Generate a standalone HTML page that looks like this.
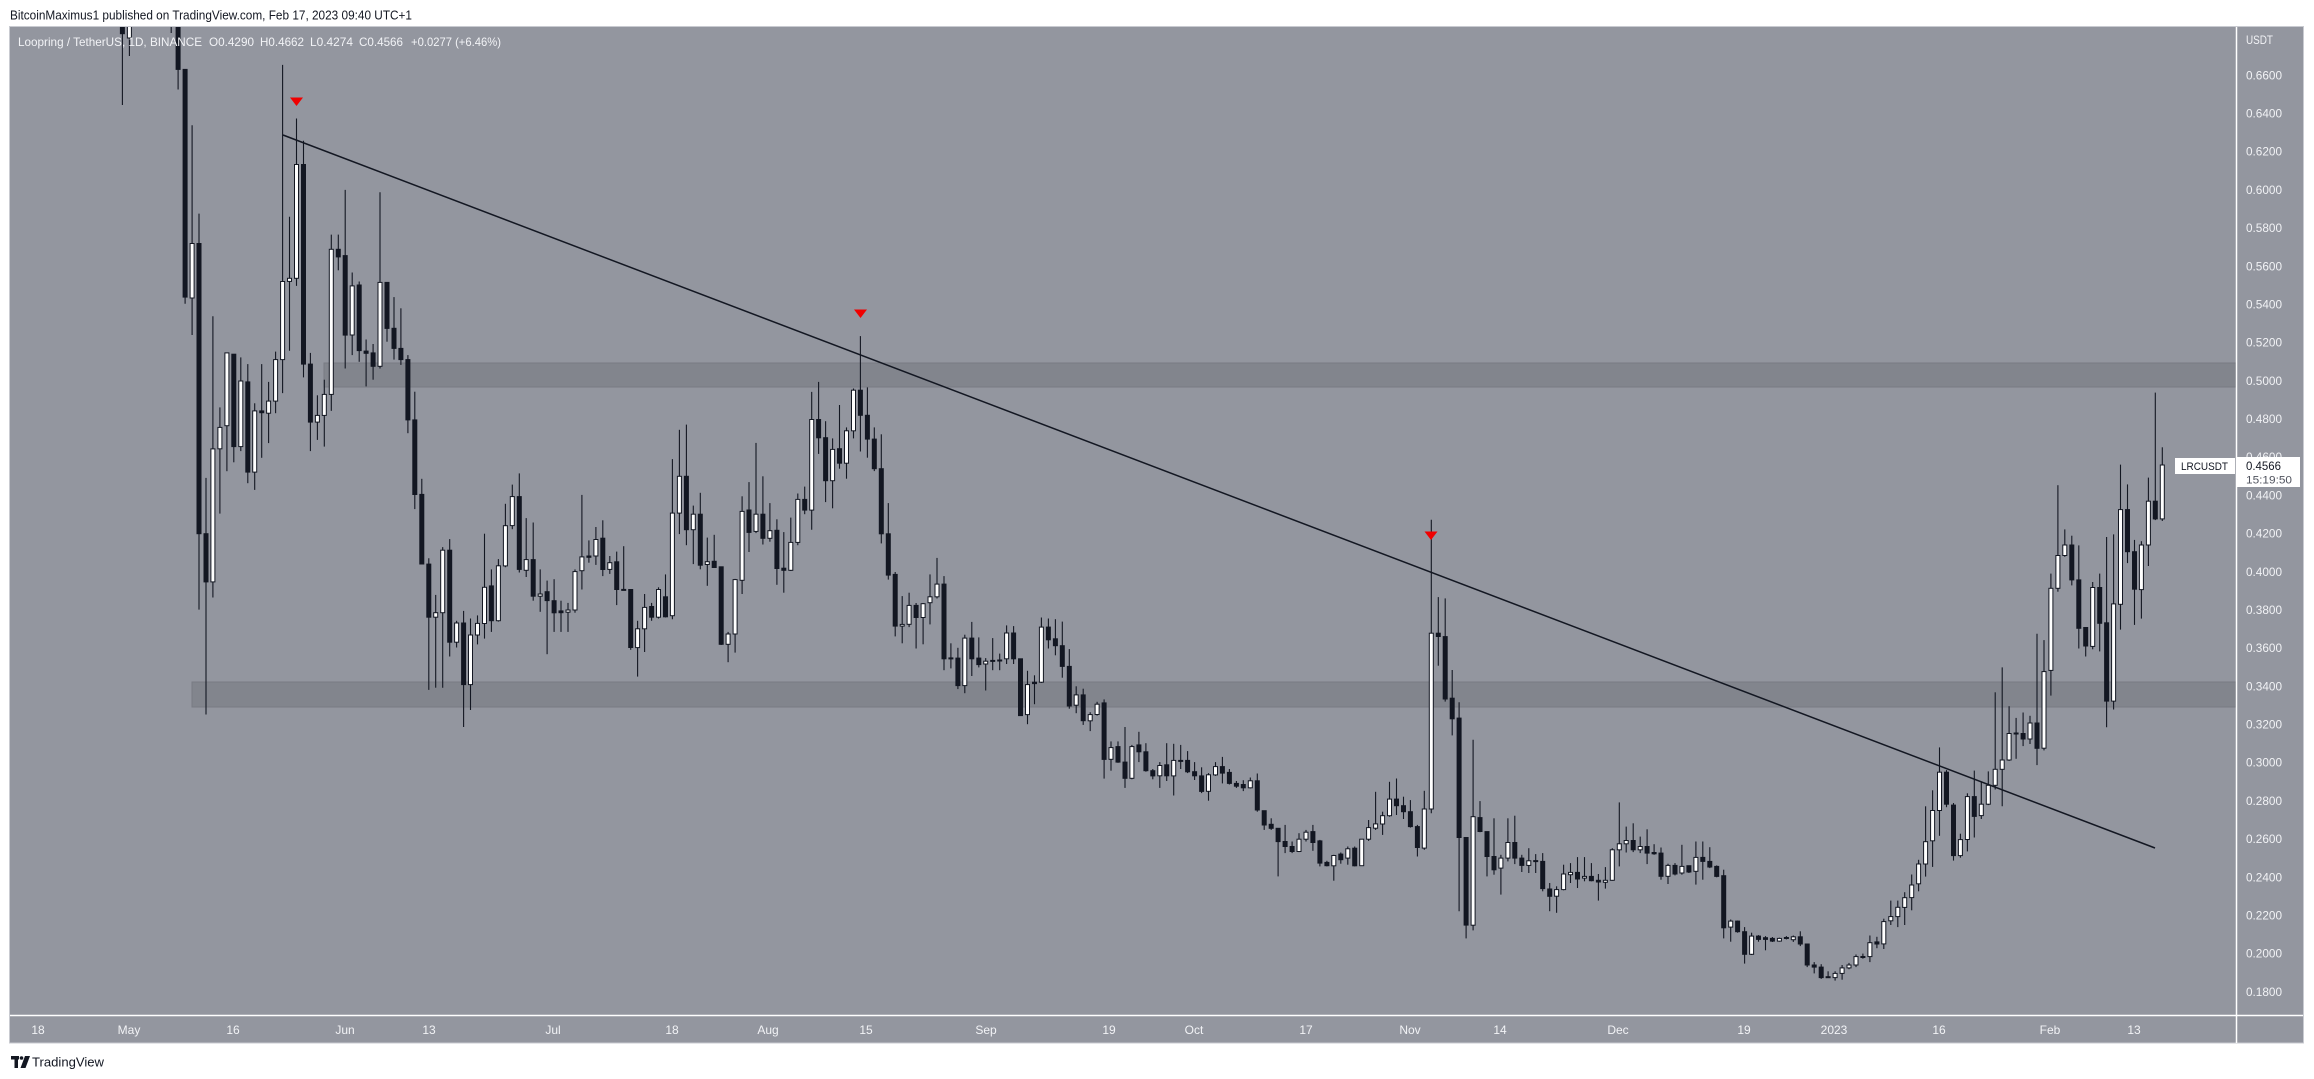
<!DOCTYPE html>
<html><head><meta charset="utf-8"><style>
html,body{margin:0;padding:0;background:#fff;width:2314px;height:1079px;overflow:hidden}
svg{display:block}
text{font-family:"Liberation Sans",sans-serif}
</style></head><body>
<svg id="s" width="2314" height="1079" viewBox="0 0 2314 1079" xmlns="http://www.w3.org/2000/svg">
<defs><clipPath id="pane"><rect x="10" y="27" width="2226" height="988"/></clipPath></defs>
<rect x="0" y="0" width="2314" height="1079" fill="#ffffff"/>
<text x="10" y="19.5" font-size="13" fill="#131722" textLength="402" lengthAdjust="spacingAndGlyphs">BitcoinMaximus1 published on TradingView.com, Feb 17, 2023 09:40 UTC+1</text>
<rect x="9.5" y="26.5" width="2294" height="1016.5" fill="#93969f" stroke="#c9cbd1" stroke-width="1"/>
<g clip-path="url(#pane)">
<rect x="324" y="363" width="1912" height="24" fill="#82858d" stroke="#787b83" stroke-width="1"/>
<rect x="192" y="682" width="2044" height="25" fill="#82858d" stroke="#787b83" stroke-width="1"/>
<g id="candles"></g>
<line x1="283" y1="135" x2="2155" y2="848" stroke="#131722" stroke-width="1.5"/>
<polygon points="290,97.5 303,97.5 296.5,106" fill="#f00000"/>
<polygon points="854,309.5 867,309.5 860.5,318" fill="#f00000"/>
<polygon points="1424.5,531.5 1437.5,531.5 1431,540" fill="#f00000"/>
</g>
<line x1="2236.5" y1="27" x2="2236.5" y2="1043" stroke="#ffffff" stroke-width="1.5"/>
<line x1="10" y1="1015.5" x2="2303" y2="1015.5" stroke="#ffffff" stroke-width="1.5"/>
<g font-size="12" fill="#f2f3f6">
<text x="18" y="46" textLength="184" lengthAdjust="spacingAndGlyphs">Loopring / TetherUS, 1D, BINANCE</text>
<text x="209" y="46" textLength="45" lengthAdjust="spacingAndGlyphs">O0.4290</text>
<text x="260" y="46" textLength="44" lengthAdjust="spacingAndGlyphs">H0.4662</text>
<text x="310" y="46" textLength="43" lengthAdjust="spacingAndGlyphs">L0.4274</text>
<text x="359" y="46" textLength="44" lengthAdjust="spacingAndGlyphs">C0.4566</text>
<text x="411" y="46" textLength="90" lengthAdjust="spacingAndGlyphs">+0.0277 (+6.46%)</text>
</g>
<g font-size="11.5" fill="#f2f3f6">
<text x="2246" y="44" textLength="27" lengthAdjust="spacingAndGlyphs">USDT</text>
<text x="2246" y="79.3" textLength="36" lengthAdjust="spacingAndGlyphs">0.6600</text>
<text x="2246" y="117.5" textLength="36" lengthAdjust="spacingAndGlyphs">0.6400</text>
<text x="2246" y="155.7" textLength="36" lengthAdjust="spacingAndGlyphs">0.6200</text>
<text x="2246" y="193.9" textLength="36" lengthAdjust="spacingAndGlyphs">0.6000</text>
<text x="2246" y="232.1" textLength="36" lengthAdjust="spacingAndGlyphs">0.5800</text>
<text x="2246" y="270.3" textLength="36" lengthAdjust="spacingAndGlyphs">0.5600</text>
<text x="2246" y="308.4" textLength="36" lengthAdjust="spacingAndGlyphs">0.5400</text>
<text x="2246" y="346.6" textLength="36" lengthAdjust="spacingAndGlyphs">0.5200</text>
<text x="2246" y="384.8" textLength="36" lengthAdjust="spacingAndGlyphs">0.5000</text>
<text x="2246" y="423.0" textLength="36" lengthAdjust="spacingAndGlyphs">0.4800</text>
<text x="2246" y="461.2" textLength="36" lengthAdjust="spacingAndGlyphs">0.4600</text>
<text x="2246" y="499.4" textLength="36" lengthAdjust="spacingAndGlyphs">0.4400</text>
<text x="2246" y="537.6" textLength="36" lengthAdjust="spacingAndGlyphs">0.4200</text>
<text x="2246" y="575.8" textLength="36" lengthAdjust="spacingAndGlyphs">0.4000</text>
<text x="2246" y="614.0" textLength="36" lengthAdjust="spacingAndGlyphs">0.3800</text>
<text x="2246" y="652.2" textLength="36" lengthAdjust="spacingAndGlyphs">0.3600</text>
<text x="2246" y="690.4" textLength="36" lengthAdjust="spacingAndGlyphs">0.3400</text>
<text x="2246" y="728.5" textLength="36" lengthAdjust="spacingAndGlyphs">0.3200</text>
<text x="2246" y="766.7" textLength="36" lengthAdjust="spacingAndGlyphs">0.3000</text>
<text x="2246" y="804.9" textLength="36" lengthAdjust="spacingAndGlyphs">0.2800</text>
<text x="2246" y="843.1" textLength="36" lengthAdjust="spacingAndGlyphs">0.2600</text>
<text x="2246" y="881.3" textLength="36" lengthAdjust="spacingAndGlyphs">0.2400</text>
<text x="2246" y="919.5" textLength="36" lengthAdjust="spacingAndGlyphs">0.2200</text>
<text x="2246" y="957.7" textLength="36" lengthAdjust="spacingAndGlyphs">0.2000</text>
<text x="2246" y="995.9" textLength="36" lengthAdjust="spacingAndGlyphs">0.1800</text>
</g>
<rect x="2175" y="458" width="60" height="16" fill="#ffffff"/>
<text x="2181" y="470" font-size="11" fill="#131722" textLength="47" lengthAdjust="spacingAndGlyphs">LRCUSDT</text>
<rect x="2237" y="457" width="63" height="30" fill="#ffffff"/>
<text x="2246" y="470" font-size="11.5" fill="#131722" textLength="35" lengthAdjust="spacingAndGlyphs">0.4566</text>
<text x="2246" y="483.5" font-size="11" fill="#50535e" textLength="46" lengthAdjust="spacingAndGlyphs">15:19:50</text>
<g font-size="12" fill="#f2f3f6" text-anchor="middle">
<text x="38" y="1034">18</text>
<text x="129" y="1034">May</text>
<text x="233" y="1034">16</text>
<text x="345" y="1034">Jun</text>
<text x="429" y="1034">13</text>
<text x="553" y="1034">Jul</text>
<text x="672" y="1034">18</text>
<text x="768" y="1034">Aug</text>
<text x="866" y="1034">15</text>
<text x="986" y="1034">Sep</text>
<text x="1109" y="1034">19</text>
<text x="1194" y="1034">Oct</text>
<text x="1306" y="1034">17</text>
<text x="1410" y="1034">Nov</text>
<text x="1500" y="1034">14</text>
<text x="1618" y="1034">Dec</text>
<text x="1744" y="1034">19</text>
<text x="1834" y="1034">2023</text>
<text x="1939" y="1034">16</text>
<text x="2050" y="1034">Feb</text>
<text x="2134" y="1034">13</text>
</g>
<g fill="#131722">
<rect x="11" y="1056" width="8" height="3.5"/>
<rect x="14.5" y="1056" width="3.5" height="12"/>
<circle cx="21.5" cy="1058" r="1.8"/>
<polygon points="25,1056 30,1056 25.5,1068 20.5,1068"/>
</g>
<text x="32" y="1066.5" font-size="12.5" fill="#131722" textLength="72" lengthAdjust="spacingAndGlyphs">TradingView</text>
</svg>
<script>
(function(){
var Z=[
{x0:100,sx:2.8,y0:27,sy:2.24,c:[
[238,95,605,95,620,0],[258,485,607,220,690,1],[278,485,1135,418,1305,0],[298,1135,1243,1010,1540,0],[318,945,1243,648,1278,1],[338,897,945,852,1090,1],[357,730,893,730,995,1],[377,733,940,733,975,0],[396,793,940,740,950,1],[415,795,997,755,1022,0],[435,860,997,843,1037,1],[455,860,864,755,965,0],[474,838,865,795,932,1],[494,745,838,727,865,1],[514,570,745,85,820,1],[533,563,570,425,725,1],[550,308,563,205,580,1],[570,308,755,255,785,0],[589,755,885,730,950,0],[609,870,885,825,925,1],[628,823,870,790,940,1],[648,498,823,465,860,1],[667,498,515,465,545,0],[687,512,690,365,765,0],[706,580,690,550,735,1],[726,578,725,570,750,0],[745,726,731,700,805,0],[765,730,760,710,790,0],[785,572,760,370,765,1],[805,572,675,572,705,0],[825,675,720,605,745,0],[845,720,745,630,757,0],[864,745,880,735,910,0],[883,880,1047,817,1080,0],[903,1047,1203,1012,1203,0],[922,1203,1322,1190,1485,0],[942,1312,1322,1272,1480,1],[962,1172,1312,1165,1480,1],[981,1172,1378,1147,1410,0],[1000,1335,1378,1330,1390,1],[1020,1335,1473,1308,1568,0],[1040,1362,1473,1325,1530,1],[1057,1336,1362,1318,1383,1],[1076,1255,1336,1135,1370,1],[1096,1252,1330,1215,1355,0],[1115,1207,1330,1192,1332,1],[1135,1117,1207,1068,1210,1],[1155,1052,1117,1025,1125,1],[1174,1052,1215,1000,1222,0],[1194,1193,1217,1100,1232,1],[1213,1193,1275,1110,1285,0],[1233,1270,1275,1215,1310,1],[1253,1265,1285,1240,1405,0],[1273,1285,1312,1237,1355,0],[1292,1308,1312,1285,1355,0],[1311,1306,1311,1290,1355,1],[1331,1220,1306,1215,1312,1],[1351,1187,1218,1048,1260,1],[1370,1185,1188,1150,1200,0],[1390,1148,1185,1120,1205,1],[1409,1145,1215,1105,1230,0],[1429,1200,1215,1185,1225,1],[1448,1198,1260,1175,1295,0],[1468,1260,1262,1163,1262,0],[1487,1260,1390,1260,1395,0],[1507,1348,1390,1330,1455,1],[1527,1300,1348,1270,1400,1],[1546,1298,1322,1290,1330,0],[1566,1260,1322,1255,1325,1]
]},
{x0:640,sx:2.613,y0:280,sy:2.904,c:[
[66,920,978,855,980,0],[85,677,975,520,985,1],[103,570,677,435,738,1],[121,570,725,420,770,0],[140,680,725,655,825,1],[158,680,828,618,840,0],[176,818,826,748,888,1],[194,817,835,740,835,0],[212,833,1058,833,1060,0],[231,1028,1058,1022,1110,1],[249,870,1028,868,1082,1],[267,672,872,628,912,1],[286,668,733,587,790,0],[304,680,730,473,735,1],[322,680,750,570,768,0],[341,728,750,648,760,1],[359,727,838,695,885,0],[377,837,843,732,908,0],[396,762,843,690,845,1],[414,637,762,620,770,1],[432,637,668,600,680,0],[451,405,668,325,725,1],[469,405,458,296,505,0],[487,458,583,410,645,0],[505,492,583,460,663,1],[522,490,532,363,548,0],[540,438,532,428,577,1],[558,320,438,315,460,1],[576,320,393,163,498,0],[595,393,462,312,516,0],[613,462,548,428,555,0],[631,548,737,448,765,0],[650,737,857,648,870,0],[668,855,1005,848,1035,0],[686,1000,1005,918,1055,1],[704,945,1000,908,1008,1],[723,945,980,938,1070,0],[741,940,980,938,1058,1],[759,920,937,855,1000,1],[777,883,920,807,925,1],[795,883,1100,860,1133,0],[814,1098,1100,1055,1128,0],[832,1098,1178,1068,1188,0],[850,1040,1178,1030,1200,1],[868,1040,1100,993,1150,0],[887,1098,1117,1038,1125,0],[905,1107,1115,1098,1192,1],[923,1105,1107,1040,1133,0],[941,1104,1106,1085,1133,0],[960,1025,1100,1003,1115,1],[978,1025,1100,1005,1115,0],[995,1100,1265,1100,1265,0],[1013,1175,1262,1135,1290,1],[1031,1168,1172,1148,1232,0],[1050,1008,1168,980,1170,1],[1068,1008,1045,983,1070,0],[1086,1042,1062,985,1090,0],[1104,1062,1122,992,1155,0],[1122,1122,1237,1072,1245,0],[1141,1205,1235,1180,1258,1],[1159,1205,1280,1187,1292,0],[1177,1262,1280,1255,1310,1],[1195,1232,1262,1225,1265,1],[1213,1228,1392,1218,1448,0],[1231,1358,1392,1340,1425,1],[1250,1355,1400,1340,1402,0],[1268,1400,1447,1298,1475,0],[1287,1355,1447,1350,1450,1],[1305,1350,1370,1312,1400,0],[1323,1370,1425,1345,1428,0],[1341,1425,1440,1420,1450,0],[1360,1410,1440,1400,1475,1],[1378,1408,1440,1345,1455,0],[1396,1395,1440,1347,1497,1],[1414,1395,1398,1350,1420,0],[1432,1395,1428,1368,1432,0],[1450,1428,1440,1400,1452,0],[1468,1440,1485,1415,1490,0],[1486,1437,1485,1432,1512,1],[1505,1413,1437,1400,1440,1],[1523,1413,1432,1385,1462,0],[1541,1430,1462,1420,1465,0],[1559,1462,1470,1455,1475,0]
]},
{x0:1230,sx:2.8,y0:480,sy:3.015,c:[
[0,875,910,870,912,0],[18,910,920,895,935,0],[38,918,928,905,938,0],[57,907,928,897,930,1],[76,907,995,885,1000,0],[96,997,1040,997,1055,0],[116,1038,1050,1020,1055,0],[135,1050,1090,1050,1195,0],[155,1090,1105,1040,1125,0],[174,1105,1120,1090,1125,0],[194,1083,1120,1065,1122,1],[213,1062,1083,1055,1090,1],[233,1060,1093,1040,1118,0],[252,1088,1155,1085,1165,0],[272,1153,1163,1148,1165,0],[292,1132,1163,1130,1208,1],[311,1128,1145,1123,1157,0],[331,1112,1140,1105,1160,1],[351,1110,1163,1105,1165,0],[370,1083,1163,1083,1163,1],[390,1048,1083,1025,1088,1],[407,1037,1050,940,1055,1],[427,1012,1037,1000,1070,1],[446,962,1012,910,1015,1],[466,962,982,900,1010,0],[486,982,1000,955,1022,0],[505,1000,1045,965,1048,0],[525,1045,1108,1040,1135,0],[545,992,1110,937,1115,1],[564,462,992,120,1005,1],[584,462,472,353,560,0],[603,472,660,357,668,0],[623,658,720,573,770,0],[642,718,1078,670,1300,0],[662,1078,1342,1078,1382,0],[681,1015,1342,783,1358,1],[701,1018,1060,968,1062,0],[720,1060,1135,1060,1195,0],[740,1135,1175,1020,1190,0],[760,1140,1170,1130,1250,1],[779,1093,1140,1020,1150,1],[799,1093,1140,1012,1158,0],[819,1140,1162,1130,1182,0],[838,1148,1162,1110,1185,1],[858,1148,1150,1128,1185,0],[878,1150,1232,1125,1240,0],[897,1233,1255,1215,1300,0],[914,1235,1255,1225,1305,1],[934,1188,1235,1160,1237,1],[953,1183,1190,1155,1215,1],[973,1183,1203,1137,1230,0],[993,1195,1200,1137,1210,1],[1013,1195,1208,1155,1210,0],[1032,1207,1212,1188,1268,0],[1051,1207,1213,1167,1232,1],[1071,1115,1207,1110,1208,1],[1090,1097,1115,972,1165,1],[1110,1087,1097,1045,1123,1],[1130,1087,1115,1035,1122,0],[1149,1105,1115,1075,1125,1],[1169,1105,1125,1053,1158,0],[1188,1123,1127,1098,1130,0],[1208,1125,1195,1108,1205,0],[1228,1162,1195,1157,1218,1],[1247,1162,1188,1155,1192,0],[1267,1165,1185,1100,1190,1],[1286,1163,1182,1163,1185,0],[1306,1138,1180,1090,1220,1],[1326,1138,1150,1090,1205,0],[1345,1150,1167,1107,1170,0],[1365,1165,1195,1162,1198,0],[1384,1193,1350,1175,1382,0],[1403,1330,1348,1325,1392,1],[1422,1330,1362,1328,1365,0],[1441,1362,1430,1348,1458,0],[1460,1375,1430,1365,1432,1],[1480,1375,1385,1372,1392,0],[1499,1380,1385,1375,1418,0],[1519,1382,1390,1378,1393,0],[1538,1382,1390,1380,1392,1],[1558,1380,1382,1375,1385,0]
]},
{x0:1770,sx:3.0,y0:340,sy:2.376,c:[
[8,1425,1432,1422,1435,0],[28,1428,1432,1425,1435,1],[49,1425,1428,1420,1440,0],[70,1418,1425,1415,1430,1],[91,1418,1435,1405,1440,0],[112,1435,1485,1435,1490,0],[133,1485,1490,1478,1505,0],[154,1490,1515,1483,1518,0],[175,1513,1515,1500,1515,0],[196,1505,1515,1500,1522,1],[217,1492,1505,1485,1520,1],[238,1485,1492,1480,1495,1],[259,1465,1485,1460,1490,1],[280,1465,1467,1458,1470,0],[301,1432,1465,1415,1478,1],[322,1430,1435,1418,1445,0],[343,1382,1435,1375,1447,1],[364,1370,1380,1332,1390,1],[385,1348,1370,1332,1395,1],[406,1325,1348,1312,1390,1],[425,1295,1325,1270,1355,1],[445,1245,1292,1235,1310,1],[466,1192,1245,1108,1275,1],[487,1118,1190,1070,1252,1],[508,1027,1118,968,1178,1],[529,1027,1103,1022,1110,0],[550,1105,1225,1100,1237,0],[571,1187,1225,1173,1230,1],[592,1085,1187,1077,1215,1],[613,1085,1132,1023,1182,0],[634,1103,1130,1050,1138,1],[655,1058,1103,1025,1105,1],[676,1020,1058,837,1068,1],[697,998,1020,778,1108,1],[718,935,998,870,1000,1],[739,934,936,898,995,0],[760,935,948,885,965,0],[781,910,948,893,960,1],[802,910,970,698,1010,0],[823,788,970,713,975,1],[844,590,785,555,845,1],[865,512,590,345,598,1],[886,487,512,450,515,1],[907,487,570,465,583,0],[928,570,685,488,733,0],[949,683,727,683,752,0],[967,588,728,575,735,1],[988,588,673,555,740,0],[1009,672,858,468,920,0],[1030,627,858,462,878,1],[1051,403,628,296,688,1],[1072,403,503,343,530,0],[1093,503,592,475,677,0],[1114,487,593,478,662,1],[1135,383,487,327,537,1],[1156,383,425,125,428,0],[1177,297,425,255,430,1]
]}
];
var OFF=38.9,STEP=6.962;
var seen={},out=[];
function add(d,bt,bb,wt,wb,w){
  if(seen[d])return; seen[d]=1;
  var cx=(OFF+STEP*d);
  var t=Math.min(bt,bb),b=Math.max(bt,bb);
  var wtp=Math.min(wt,t),wbt=Math.max(wb,b);
  if(b-t<1){var m=(t+b)/2;t=m-0.5;b=m+0.5;}
  out.push('<line x1="'+cx.toFixed(1)+'" y1="'+wtp.toFixed(1)+'" x2="'+cx.toFixed(1)+'" y2="'+wbt.toFixed(1)+'" stroke="#131722" stroke-width="1.1"/>');
  out.push('<rect x="'+(cx-2).toFixed(1)+'" y="'+t.toFixed(1)+'" width="4" height="'+(b-t).toFixed(1)+'" fill="'+(w?'#ffffff':'#131722')+'" stroke="#131722" stroke-width="1"/>');
}
add(12,-20,33.7,-40,105,0);
add(13,-20,38,-40,56,1);
add(19,-40,-5,-60,33,0);
add(20,-10,69.4,-30,89.5,0);
for(var i=0;i<Z.length;i++){
  var z=Z[i];
  for(var j=0;j<z.c.length;j++){
    var c=z.c[j];
    var x=z.x0+c[0]/z.sx;
    var d=Math.round((x-OFF)/STEP);
    add(d,z.y0+c[1]/z.sy,z.y0+c[2]/z.sy,z.y0+c[3]/z.sy,z.y0+c[4]/z.sy,c[5]);
  }
}
document.getElementById('candles').innerHTML=out.join('');
})();
</script>
</body></html>
